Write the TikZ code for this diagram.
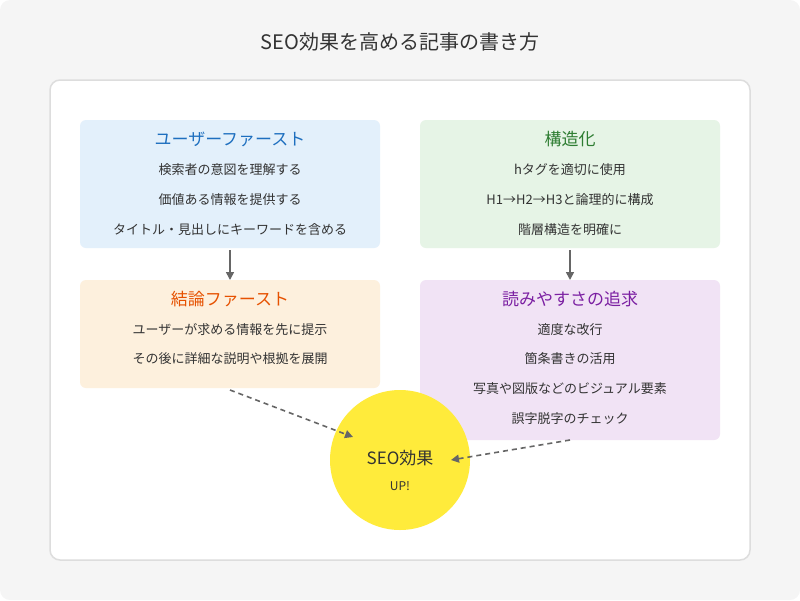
\documentclass[tikz,border=0pt]{standalone}
\usepackage{fontspec}
\setmainfont{Noto Sans CJK JP}
\usetikzlibrary{arrows.meta}
\definecolor{bgc}{HTML}{F5F5F5}
\definecolor{panelb}{HTML}{DDDDDD}
\definecolor{bluef}{HTML}{E3F0FB}\definecolor{bluet}{HTML}{1E6FBF}
\definecolor{greenf}{HTML}{E6F4E6}\definecolor{greent}{HTML}{2E7D32}
\definecolor{orangef}{HTML}{FDF0DD}\definecolor{oranget}{HTML}{E65100}
\definecolor{purplef}{HTML}{F1E3F5}\definecolor{purplet}{HTML}{7B1FA2}
\definecolor{yel}{HTML}{FFEB3B}
\definecolor{txt}{HTML}{333333}
\definecolor{arr}{HTML}{666666}
\tikzset{
 boxr/.style={rounded corners=6pt,draw=none},
 ttl/.style={font=\fontsize{17}{20}\selectfont},
 itm/.style={font=\fontsize{13}{16}\selectfont,text=txt},
 conn/.style={draw=arr,line width=1.6pt,-{Triangle[length=8pt,width=8pt]}},
 dconn/.style={conn,dash pattern=on 5pt off 4pt}
}
\begin{document}
\begin{tikzpicture}[x=1pt,y=-1pt]
\fill[bgc,rounded corners=10pt] (0,0) rectangle (800,600);
\useasboundingbox (0,0) rectangle (800,600);
\draw[panelb,fill=white,line width=1.5pt,rounded corners=10pt] (50,80) rectangle (750,560);
\node[font=\fontsize{20}{24}\selectfont,text=txt] (title) at (400,42) {SEO効果を高める記事の書き方};
% boxes
\fill[bluef,boxr] (80,120) rectangle (380,248);
\fill[greenf,boxr] (420,120) rectangle (720,248);
\fill[orangef,boxr] (80,280) rectangle (380,388);
\fill[purplef,boxr] (420,280) rectangle (720,440);
\node[ttl,text=bluet] (bt) at (230,139) {ユーザーファースト};
\node[itm] at (230,170) {検索者の意図を理解する};
\node[itm] at (230,200) {価値ある情報を提供する};
\node[itm] at (230,230) {タイトル・見出しにキーワードを含める};
\node[ttl,text=greent] (gt) at (570,139) {構造化};
\node[itm] at (570,170) {hタグを適切に使用};
\node[itm] at (570,200) {H1→H2→H3と論理的に構成};
\node[itm] at (570,230) {階層構造を明確に};
\node[ttl,text=oranget] (ot) at (230,299) {結論ファースト};
\node[itm] at (230,330) {ユーザーが求める情報を先に提示};
\node[itm] at (230,359) {その後に詳細な説明や根拠を展開};
\node[ttl,text=purplet] (pt) at (570,299) {読みやすさの追求};
\node[itm] at (570,330) {適度な改行};
\node[itm] at (570,359) {箇条書きの活用};
\node[itm] at (570,389) {写真や図版などのビジュアル要素};
\node[itm] at (570,419) {誤字脱字のチェック};
% circle
\fill[yel] (400,460) circle (70);
\node[font=\fontsize{17}{20}\selectfont,text=txt] (seo) at (400,458) {SEO効果};
\node[font=\fontsize{12}{14}\selectfont,text=txt] (up) at (400,486) {UP!};
\coordinate (a1) at (230,250); \coordinate (a2) at (230,280);
\coordinate (b1) at (570,250); \coordinate (b2) at (570,280);
\coordinate (c1) at (230,390); \coordinate (c2) at (353,437);
\coordinate (d1) at (570,440); \coordinate (d2) at (451,460);
\draw[conn] (a1) -- (a2);
\draw[conn] (b1) -- (b2);
\draw[dconn] (c1) -- (c2);
\draw[dconn] (d1) -- (d2);
\end{tikzpicture}
\end{document}
